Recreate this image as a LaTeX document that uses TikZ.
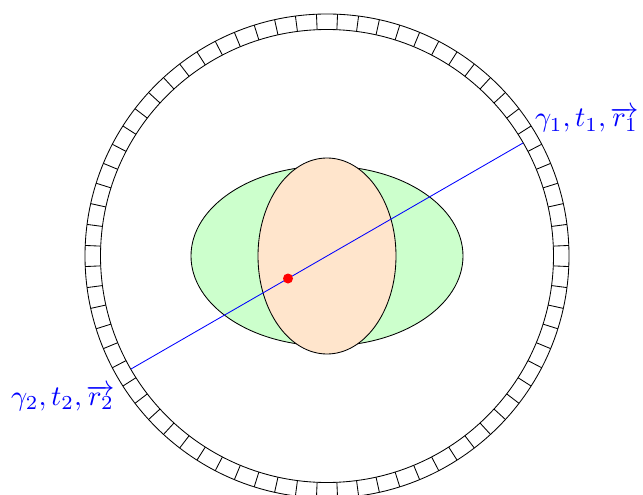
\documentclass[tikz,border=0pt]{standalone}
\usepackage{graphicx}
\usetikzlibrary{calc}
\tikzset{
  ring/.style={draw=black,line width=0.85pt},
  tick/.style={draw=black,line width=0.85pt},
  blob/.style={draw=black,line width=0.85pt},
  ray/.style={draw=blue,line width=0.85pt},
  lab/.style={text=blue,inner sep=0pt}
}
\newcommand{\labtext}[1]{\resizebox{104pt}{!}{$#1$}}
\begin{document}
\begin{tikzpicture}[x=1pt,y=-1pt]
\useasboundingbox (0,0) rectangle (643,495);
\coordinate (c) at (327,256);
\draw[ring] (c) circle[radius=242];
\draw[ring] (c) circle[radius=226.5];
\foreach \a in {0,...,71}{
  \pgfmathsetmacro{\ang}{2.5+5*\a}
  \draw[tick] ($(c)+(\ang:226.5)$) -- ($(c)+(\ang:242)$);
}
\draw[blob,fill=green!20] (c) ellipse[x radius=136,y radius=90];
\draw[blob,fill=orange!20] (c) ellipse[x radius=69,y radius=98];
\coordinate (e1) at (523,143);
\coordinate (e2) at (131,369);
\draw[ray] (e1) -- (e2);
\node[circle,fill=red,inner sep=0pt,minimum size=10pt] (dot) at (288,278.5) {};
\node[lab,anchor=base west] (l1) at (535,127) {\labtext{\gamma_1, t_1, \overrightarrow{r_1}}};
\node[lab,anchor=base west] (l2) at (11,405) {\labtext{\gamma_2, t_2, \overrightarrow{r_2}}};
\end{tikzpicture}
\end{document}
